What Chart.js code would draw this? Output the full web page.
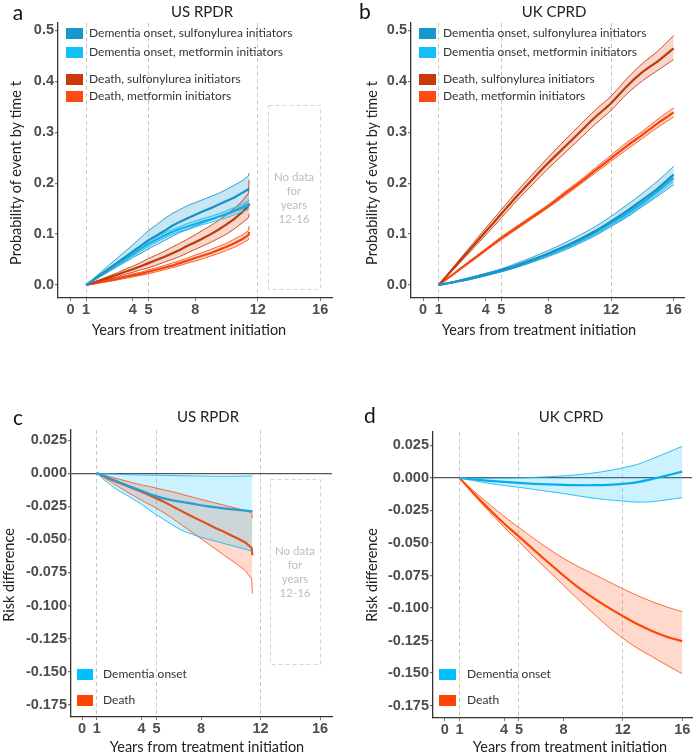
<!DOCTYPE html>
<html>
<head>
<meta charset="utf-8">
<script src="https://cdn.jsdelivr.net/npm/chart.js@4.4.1/dist/chart.umd.min.js"></script>
<style>
body { margin:0; background:#fff; }
#fig { position:relative; width:693px; height:753px; overflow:hidden; font-family:Lato, "Noto Sans", sans-serif; }
canvas { position:absolute; }
.t { position:absolute; white-space:nowrap; transform:translate(-50%,-50%); color:#222; }
.letter { font-size:21px; color:#111; }
.ptitle { font-size:15px; }
.ax { font-size:14.5px; }
.ay { font-size:14.5px; transform:translate(-50%,-50%) rotate(-90deg); }
.leg { position:absolute; font-size:12px; color:#333; white-space:nowrap; line-height:14px; }
.leg i { position:absolute; top:1.5px; height:11px; }
</style>
</head>
<body>
<div id="fig">
  <canvas id="pa" width="346" height="330" style="left:0;top:0"></canvas>
  <canvas id="pb" width="347" height="330" style="left:346px;top:0"></canvas>
  <canvas id="pc" width="346" height="373" style="left:0;top:380px"></canvas>
  <canvas id="pd" width="347" height="373" style="left:346px;top:380px"></canvas>

  <div class="t letter" style="left:18px;top:11px">a</div>
  <div class="t letter" style="left:365px;top:10px">b</div>
  <div class="t letter" style="left:18px;top:416px">c</div>
  <div class="t letter" style="left:370px;top:414px">d</div>

  <div class="t ptitle" style="left:202px;top:11px">US RPDR</div>
  <div class="t ptitle" style="left:554px;top:11px">UK CPRD</div>
  <div class="t ptitle" style="left:208px;top:416px">US RPDR</div>
  <div class="t ptitle" style="left:571px;top:416px">UK CPRD</div>

  <div class="t ay" style="left:15px;top:173px">Probability of event by time t</div>
  <div class="t ay" style="left:371px;top:173px">Probability of event by time t</div>
  <div class="t ay" style="left:8px;top:575px">Risk difference</div>
  <div class="t ay" style="left:371px;top:575px">Risk difference</div>

  <div class="t ax" style="left:189px;top:329px">Years from treatment initiation</div>
  <div class="t ax" style="left:539px;top:329px">Years from treatment initiation</div>
  <div class="t ax" style="left:207px;top:746px">Years from treatment initiation</div>
  <div class="t ax" style="left:570px;top:746px">Years from treatment initiation</div>
</div>
<script>
// axes
const xTicks = [0, 1, 4, 5, 8, 12, 16];
const dashedYears = [1, 5, 12];
const probTicks = [0, 0.1, 0.2, 0.3, 0.4, 0.5];
const rdTicks = [0.025, 0, -0.025, -0.05, -0.075, -0.1, -0.125, -0.15, -0.175];
const legendTop = ['Dementia onset, sulfonylurea initiators', 'Dementia onset, metformin initiators',
                   'Death, sulfonylurea initiators', 'Death, metformin initiators'];
const legendBottom = ['Dementia onset', 'Death'];
const noDataText = ['No data', 'for', 'years', '12-16'];

// years
const usYears = [1, 1.5, 2, 2.5, 3, 3.5, 4, 4.5, 5, 5.5, 6, 6.5, 7, 7.5, 8, 8.5, 9, 9.5, 10, 10.5, 11, 11.4, 11.45];
const ukYears = [1, 2, 3, 4, 5, 6, 7, 8, 9, 10, 11, 12, 13, 14, 15, 16];

// a: US RPDR cumulative probability
const usDemSu   = [0,0.011,0.022,0.033,0.044,0.055,0.066,0.077,0.088,0.097,0.106,0.116,0.124,0.131,0.138,0.145,0.151,0.158,0.165,0.172,0.181,0.188,0.19];
const usDemSuHi = [0,0.013,0.027,0.04,0.053,0.066,0.079,0.093,0.107,0.118,0.13,0.14,0.148,0.156,0.162,0.168,0.174,0.18,0.188,0.196,0.205,0.214,0.22];
const usDemSuLo = [0,0.009,0.018,0.027,0.036,0.045,0.054,0.062,0.071,0.079,0.087,0.095,0.103,0.109,0.116,0.122,0.128,0.134,0.141,0.147,0.154,0.16,0.16];
const usDemMet   = [0,0.01,0.021,0.031,0.041,0.051,0.061,0.071,0.081,0.089,0.097,0.104,0.11,0.115,0.12,0.125,0.129,0.134,0.139,0.145,0.151,0.156,0.158];
const usDemMetHi = [0,0.011,0.023,0.034,0.044,0.055,0.065,0.076,0.086,0.094,0.102,0.109,0.115,0.121,0.126,0.131,0.135,0.14,0.146,0.152,0.158,0.164,0.168];
const usDemMetLo = [0,0.009,0.019,0.028,0.038,0.047,0.057,0.066,0.076,0.084,0.092,0.099,0.105,0.109,0.114,0.119,0.123,0.128,0.132,0.138,0.144,0.148,0.15];
const usDeathSu   = [0,0.005,0.01,0.015,0.02,0.026,0.031,0.037,0.043,0.049,0.055,0.062,0.069,0.077,0.084,0.092,0.1,0.109,0.119,0.13,0.143,0.155,0.16];
const usDeathSuHi = [0,0.006,0.012,0.018,0.024,0.031,0.037,0.044,0.052,0.059,0.066,0.074,0.082,0.09,0.099,0.108,0.117,0.127,0.138,0.15,0.165,0.18,0.207];
const usDeathSuLo = [0,0.004,0.008,0.012,0.016,0.021,0.025,0.03,0.034,0.039,0.045,0.05,0.056,0.063,0.07,0.077,0.084,0.092,0.1,0.11,0.122,0.132,0.14];
const usDeathMet   = [0,0.003,0.006,0.009,0.012,0.016,0.019,0.022,0.026,0.03,0.034,0.038,0.043,0.048,0.053,0.058,0.063,0.069,0.075,0.082,0.09,0.098,0.104];
const usDeathMetHi = [0,0.004,0.007,0.011,0.014,0.018,0.022,0.025,0.03,0.034,0.038,0.043,0.048,0.053,0.059,0.064,0.07,0.076,0.082,0.09,0.098,0.107,0.116];
const usDeathMetLo = [0,0.002,0.005,0.007,0.01,0.013,0.016,0.019,0.022,0.026,0.03,0.034,0.038,0.043,0.047,0.052,0.057,0.062,0.068,0.074,0.082,0.089,0.092];

// b: UK CPRD cumulative probability
const ukDemSu   = [0,0.006,0.013,0.021,0.029,0.039,0.05,0.062,0.075,0.09,0.106,0.125,0.145,0.167,0.19,0.217];
const ukDemSuHi = [0,0.007,0.015,0.023,0.032,0.043,0.055,0.068,0.082,0.098,0.115,0.135,0.157,0.18,0.205,0.233];
const ukDemSuLo = [0,0.005,0.011,0.018,0.026,0.035,0.045,0.056,0.068,0.082,0.097,0.115,0.133,0.154,0.175,0.197];
const ukDemMet   = [0,0.006,0.012,0.02,0.028,0.037,0.048,0.06,0.073,0.087,0.103,0.121,0.14,0.161,0.185,0.21];
const ukDemMetHi = [0,0.007,0.013,0.021,0.03,0.039,0.05,0.062,0.076,0.09,0.107,0.125,0.145,0.166,0.191,0.217];
const ukDemMetLo = [0,0.005,0.011,0.019,0.026,0.035,0.046,0.058,0.07,0.084,0.099,0.117,0.135,0.156,0.179,0.203];
const ukDeathSu   = [0,0.035,0.07,0.105,0.14,0.175,0.208,0.24,0.27,0.3,0.33,0.357,0.39,0.418,0.44,0.465];
const ukDeathSuHi = [0,0.038,0.075,0.112,0.148,0.184,0.218,0.251,0.283,0.314,0.344,0.371,0.405,0.435,0.46,0.49];
const ukDeathSuLo = [0,0.032,0.065,0.098,0.132,0.166,0.198,0.229,0.258,0.287,0.316,0.343,0.375,0.401,0.422,0.443];
const ukDeathMet   = [0,0.023,0.046,0.069,0.092,0.113,0.134,0.155,0.178,0.201,0.225,0.249,0.273,0.295,0.318,0.339];
const ukDeathMetHi = [0,0.024,0.048,0.071,0.095,0.116,0.137,0.158,0.182,0.205,0.23,0.255,0.28,0.302,0.326,0.348];
const ukDeathMetLo = [0,0.022,0.044,0.067,0.089,0.11,0.131,0.152,0.174,0.197,0.22,0.243,0.266,0.288,0.31,0.33];

// c: US RPDR risk difference
const usRdDem   = [0,-0.002,-0.0045,-0.0068,-0.009,-0.0112,-0.0133,-0.0155,-0.0175,-0.019,-0.0203,-0.0213,-0.0222,-0.0232,-0.0242,-0.025,-0.0258,-0.0265,-0.0271,-0.0277,-0.0283,-0.0288,-0.029];
const usRdDemHi = [0,-0.0003,-0.0006,-0.0008,-0.001,-0.0012,-0.0013,-0.0014,-0.0015,-0.0016,-0.0017,-0.0018,-0.0019,-0.002,-0.0021,-0.0022,-0.0023,-0.0023,-0.0023,-0.0022,-0.0021,-0.002,-0.002];
const usRdDemLo = [0,-0.005,-0.0095,-0.0135,-0.0165,-0.02,-0.0235,-0.0275,-0.0315,-0.035,-0.0385,-0.042,-0.0445,-0.0465,-0.0485,-0.05,-0.0515,-0.053,-0.0545,-0.056,-0.0575,-0.0588,-0.0595];
const usRdDeath   = [0,-0.0025,-0.005,-0.0072,-0.0095,-0.0118,-0.014,-0.0165,-0.019,-0.0215,-0.0245,-0.0275,-0.0305,-0.0332,-0.036,-0.0388,-0.0415,-0.044,-0.0468,-0.0495,-0.0525,-0.0565,-0.062];
const usRdDeathHi = [0,-0.0015,-0.003,-0.0045,-0.006,-0.0075,-0.0088,-0.01,-0.0113,-0.0125,-0.0138,-0.0152,-0.0168,-0.0183,-0.0198,-0.0212,-0.0226,-0.024,-0.0254,-0.0268,-0.0283,-0.0298,-0.034];
const usRdDeathLo = [0,-0.0035,-0.007,-0.0105,-0.014,-0.0172,-0.0205,-0.0235,-0.0265,-0.0298,-0.0335,-0.0375,-0.0415,-0.0455,-0.0495,-0.0535,-0.0575,-0.0617,-0.0655,-0.0695,-0.074,-0.08,-0.091];

// d: UK CPRD risk difference
const ukRdDem   = [0,-0.0012,-0.0022,-0.003,-0.0038,-0.0045,-0.005,-0.0054,-0.0056,-0.0056,-0.0053,-0.0046,-0.0032,-0.0008,0.002,0.0048];
const ukRdDemHi = [0,-0.0002,-0.0002,-0.0001,0,0.0004,0.0009,0.0016,0.0025,0.0038,0.0055,0.0078,0.0105,0.0148,0.0195,0.0243];
const ukRdDemLo = [0,-0.0022,-0.0042,-0.0058,-0.0072,-0.0088,-0.0104,-0.012,-0.0138,-0.0155,-0.0168,-0.0178,-0.0186,-0.0182,-0.0168,-0.0152];
const ukRdDeath   = [0,-0.0125,-0.024,-0.035,-0.045,-0.0552,-0.0652,-0.075,-0.0842,-0.0922,-0.0995,-0.1062,-0.1125,-0.1178,-0.1222,-0.1255];
const ukRdDeathHi = [0,-0.0105,-0.0202,-0.0295,-0.0382,-0.0465,-0.0545,-0.0618,-0.0682,-0.0738,-0.0795,-0.0852,-0.0905,-0.0952,-0.0993,-0.1028];
const ukRdDeathLo = [0,-0.0135,-0.026,-0.0378,-0.049,-0.0605,-0.0715,-0.0825,-0.0935,-0.104,-0.1142,-0.1232,-0.131,-0.1375,-0.1442,-0.1505];

const pts = (xs, ys) => xs.map((x, i) => ({x: x, y: ys[i]}));

// upper (filled down to lower), lower, mean
function band(xs, hi, lo, mid, line, meanLine, fill, tension) {
  return [
    {data: pts(xs, hi), borderColor: line, borderWidth: 0.9, backgroundColor: fill, fill: '+1', pointRadius: 0, tension: tension},
    {data: pts(xs, lo), borderColor: line, borderWidth: 0.9, fill: false, pointRadius: 0, tension: tension},
    {data: pts(xs, mid), borderColor: meanLine, borderWidth: 2.2, fill: false, pointRadius: 0, tension: tension}
  ];
}

// "no data" dashed box
const noData = {
  id: 'noData',
  afterDatasetsDraw(chart, args, o) {
    if (!o.box) return;
    const {ctx, scales: {x, y}} = chart;
    const l = Math.round(x.getPixelForValue(o.box[0])), r = Math.round(x.getPixelForValue(o.box[1]));
    const t = Math.round(y.getPixelForValue(o.box[2])), b = Math.round(y.getPixelForValue(o.box[3]));
    ctx.save();
    ctx.strokeStyle = '#d6d6d6';
    ctx.lineWidth = 1;
    ctx.setLineDash([4, 3]);
    ctx.strokeRect(l + 0.5, t + 0.5, r - l, b - t);
    ctx.setLineDash([]);
    ctx.fillStyle = '#bdbdbd';
    ctx.font = '11.5px Lato';
    ctx.textAlign = 'center';
    ctx.textBaseline = 'middle';
    const cy = (t + b) / 2 + 1;
    noDataText.forEach((s, i) => ctx.fillText(s, (l + r) / 2, cy + (i - 1.5) * 14));
    ctx.restore();
  }
};

const tickFont = {family: '"Liberation Sans", Arial, sans-serif', size: 14.5, weight: 'bold'};

function panel(id, lay, xr, yr, yTicks, yDec, datasets, box, zeroLine) {
  const cv = document.getElementById(id);
  return new Chart(cv, {
    type: 'line',
    data: {datasets: datasets},
    plugins: [noData],
    options: {
      responsive: false,
      animation: false,
      events: [],
      layout: {padding: {left: 0, right: lay.pr, top: lay.pt, bottom: 0}},
      plugins: {
        legend: {display: false},
        tooltip: {enabled: false},
        filler: {drawTime: 'beforeDatasetsDraw'},
        noData: {box: box}
      },
      scales: {
        x: {
          type: 'linear', min: xr[0], max: xr[1],
          afterBuildTicks: s => { s.ticks = xTicks.map(v => ({value: v})); },
          afterFit: s => { s.height = cv.height - lay.bottom; s.paddingLeft = 0; s.paddingRight = 0; },
          ticks: {font: tickFont, color: '#4d4d4d', padding: 0, maxRotation: 0, autoSkip: false, callback: v => String(v)},
          grid: {
            color: c => (c.tick && dashedYears.includes(c.tick.value)) ? '#c8c8c8' : 'rgba(0,0,0,0)',
            lineWidth: 1, tickColor: '#777', tickLength: 3
          },
          border: {color: '#333', width: 1.3, dash: [4, 3]}
        },
        y: {
          min: yr[0], max: yr[1],
          afterBuildTicks: s => { s.ticks = yTicks.map(v => ({value: v})); },
          afterFit: s => { s.width = lay.yw; s.paddingTop = 0; s.paddingBottom = 0; },
          ticks: {font: tickFont, color: '#4d4d4d', padding: 1, callback: v => v.toFixed(yDec)},
          grid: {
            color: c => (zeroLine && c.tick && Math.abs(c.tick.value) < 1e-9) ? '#555' : 'rgba(0,0,0,0)',
            lineWidth: 1.3, tickColor: '#777', tickLength: 3
          },
          border: {color: '#333', width: 1.3}
        }
      }
    }
  });
}

// panel a
panel('pa', {pt: 23, pr: 14, yw: 58, bottom: 298}, [-0.8, 16.76], [-0.0255, 0.5147], probTicks, 1, [].concat(
  band(usYears, usDemSuHi, usDemSuLo, usDemSu, '#1b9ad0', '#1990c4', 'rgba(27,154,208,0.25)', 0),
  band(usYears, usDemMetHi, usDemMetLo, usDemMet, '#19bdf4', '#14b2ea', 'rgba(0,191,255,0.22)', 0),
  band(usYears, usDeathSuHi, usDeathSuLo, usDeathSu, '#cc3d0c', '#c0390a', 'rgba(205,55,0,0.2)', 0),
  band(usYears, usDeathMetHi, usDeathMetLo, usDeathMet, '#ff4d14', '#f5440c', 'rgba(255,69,0,0.22)', 0)
), [12.67, 16.0, 0.354, -0.008], false);

// panel b
panel('pb', {pt: 23, pr: 9, yw: 65, bottom: 298}, [-0.77, 16.66], [-0.0255, 0.5147], probTicks, 1, [].concat(
  band(ukYears, ukDemSuHi, ukDemSuLo, ukDemSu, '#1b9ad0', '#1990c4', 'rgba(27,154,208,0.25)', 0.3),
  band(ukYears, ukDemMetHi, ukDemMetLo, ukDemMet, '#19bdf4', '#14b2ea', 'rgba(0,191,255,0.22)', 0.3),
  band(ukYears, ukDeathSuHi, ukDeathSuLo, ukDeathSu, '#cc3d0c', '#c0390a', 'rgba(205,55,0,0.2)', 0.3),
  band(ukYears, ukDeathMetHi, ukDeathMetLo, ukDeathMet, '#ff4d14', '#f5440c', 'rgba(255,69,0,0.22)', 0.3)
), null, false);

// panel c
panel('pc', {pt: 50, pr: 14, yw: 71, bottom: 337}, [-0.74, 16.8], [-0.1843, 0.0327], rdTicks, 3, [].concat(
  band(usYears, usRdDemHi, usRdDemLo, usRdDem, '#1ab7f2', '#2a9ccf', 'rgba(0,191,255,0.2)', 0),
  band(usYears, usRdDeathHi, usRdDeathLo, usRdDeath, '#ff5a22', '#e0501e', 'rgba(255,69,0,0.2)', 0)
), [12.6, 16.0, -0.0043, -0.144], true);

// panel d
panel('pd', {pt: 52, pr: 1, yw: 87, bottom: 338}, [-0.79, 16.66], [-0.1845, 0.0353], rdTicks, 3, [].concat(
  band(ukYears, ukRdDemHi, ukRdDemLo, ukRdDem, '#1ab7f2', '#08acec', 'rgba(0,191,255,0.2)', 0.3),
  band(ukYears, ukRdDeathHi, ukRdDeathLo, ukRdDeath, '#ff5a22', '#ff4500', 'rgba(255,69,0,0.2)', 0.3)
), null, true);

// legends
function legend(boxX, textX, ys, boxW, labels, colors) {
  const fig = document.getElementById('fig');
  labels.forEach((s, i) => {
    const d = document.createElement('div');
    d.className = 'leg';
    d.style.left = boxX + 'px';
    d.style.top = (ys[i] - 7) + 'px';
    d.style.paddingLeft = (textX - boxX) + 'px';
    d.innerHTML = '<i style="left:0;width:' + boxW + 'px;background:' + colors[i] + '"></i>';
    d.appendChild(document.createTextNode(s));
    fig.appendChild(d);
  });
}
const topColors = ['#1798cc', '#12bff6', '#c93a08', '#ff4a10'];
const bottomColors = ['#00bfff', '#ff4500'];
legend(66, 89, [33.3, 52.3, 79.3, 96.3], 17, legendTop, topColors);
legend(419, 443, [33.3, 52.3, 79.3, 96.3], 17, legendTop, topColors);
legend(77, 103, [674.3, 700], 16, legendBottom, bottomColors);
legend(439, 467, [674.3, 700], 17, legendBottom, bottomColors);
</script>
</body>
</html>
